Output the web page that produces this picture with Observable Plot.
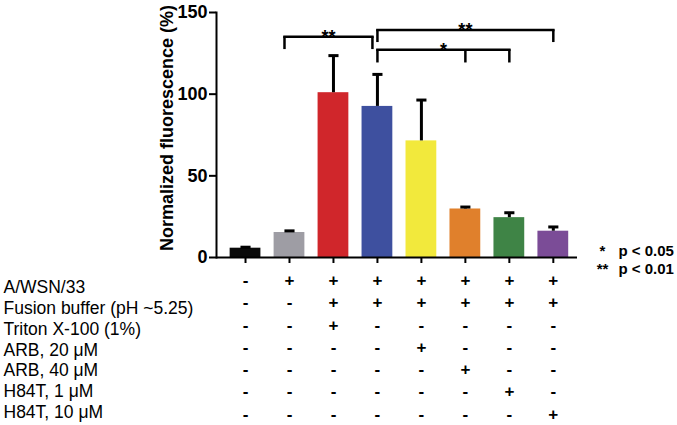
<!DOCTYPE html>
<html>
<head>
<meta charset="utf-8">
<script src="https://cdn.jsdelivr.net/npm/d3@7"></script>
<script src="https://cdn.jsdelivr.net/npm/@observablehq/plot@0.6"></script>
<style>
  html, body { margin: 0; padding: 0; background: #fff; }
  #chart svg { display: block; }
</style>
</head>
<body>
<div id="chart"></div>
<script>
// ---- data ----
const conditions = ["Mock", "A/WSN/33", "Triton X-100", "Fusion buffer", "ARB 20", "ARB 40", "H84T 1", "H84T 10"];
const means  = [5.7, 15.3, 100.9, 92.5, 71.4, 29.7, 24.4, 16.1];
const errors = [0.6, 1.0, 22.7, 19.6, 25.0, 1.2, 3.0, 2.6];
const barColors = ["#0a0a0a", "#9e9da4", "#d0262b", "#3e509f", "#f2e93c", "#e0802c", "#3f8446", "#7b4c97"];
const yTicks = [0, 50, 100, 150];
const yTitle = "Normalized fluorescence (%)";

const rowLabels = ["A/WSN/33", "Fusion buffer (pH ~5.25)", "Triton X-100 (1%)", "ARB, 20 μM", "ARB, 40 μM", "H84T, 1 μM", "H84T, 10 μM"];
const signRows = [
  ["-", "+", "+", "+", "+", "+", "+", "+"],
  ["-", "-", "+", "+", "+", "+", "+", "+"],
  ["-", "-", "+", "-", "-", "-", "-", "-"],
  ["-", "-", "-", "-", "+", "-", "-", "-"],
  ["-", "-", "-", "-", "-", "+", "-", "-"],
  ["-", "-", "-", "-", "-", "-", "+", "-"],
  ["-", "-", "-", "-", "-", "-", "-", "+"]
];

// significance brackets (indices into conditions, heights in y units)
const bracketFrom  = [1, 3, 3];
const bracketTo    = [3, 7, 6];
const bracketMid   = [null, null, 5];
const bracketTop   = [135.1, 139.3, 127.2];
const bracketLeg   = [127.3, 131.6, 119.1];
const bracketLabel = ["**", "**", "*"];

const legendStars = ["*", "**"];
const legendTexts = ["p < 0.05", "p < 0.01"];

// ---- build tables ----
const bars = conditions.map((c, i) => ({i, cond: c, mean: means[i], top: means[i] + errors[i], color: barColors[i]}));
const brackets = bracketFrom.map((f, k) => ({
  from: f, to: bracketTo[k], mid: bracketMid[k], top: bracketTop[k], leg: bracketLeg[k],
  label: bracketLabel[k], shift: k === 0 ? -5 : 0
}));

const font = "'Liberation Sans', Arial, Helvetica, sans-serif";
const halfBar = 0.35;

const marks = [
  // bars
  Plot.rectY(bars, {x1: d => d.i - halfBar, x2: d => d.i + halfBar, y: "mean", fill: "color"}),
  // error bars (upper only)
  Plot.ruleX(bars, {x: "i", y1: "mean", y2: "top", stroke: "black", strokeWidth: 3}),
  Plot.link(bars, {x1: d => d.i - 0.115, x2: d => d.i + 0.115, y1: "top", y2: "top", stroke: "black", strokeWidth: 3}),
  // axes
  Plot.axisY({ticks: yTicks, tickSize: 7, tickPadding: 2, strokeWidth: 2, fontSize: 18, fontWeight: "bold", label: null}),
  Plot.axisX({ticks: d3.range(conditions.length), tickSize: 6, strokeWidth: 2, tickFormat: () => "", label: null}),
  Plot.frame({anchor: "left", strokeWidth: 2}),
  Plot.ruleY([0], {strokeWidth: 2}),
  // y-axis title
  Plot.text([yTitle], {frameAnchor: "left", textAnchor: "middle", lineAnchor: "middle", rotate: -90, dx: -49, dy: -7, fontSize: 18, fontWeight: "bold", fill: "black"}),
];

// brackets
brackets.forEach(b => {
  marks.push(
    Plot.link([b], {x1: "from", x2: "to", y1: "top", y2: "top", strokeWidth: 2.5, strokeLinecap: "square", dx: b.shift}),
    Plot.ruleX([b.from, b.to].concat(b.mid == null ? [] : [b.mid]), {x: d => d, y1: b.top, y2: b.leg, strokeWidth: 2.5, dx: b.shift}),
    Plot.text([b], {x: d => (d.from + d.to) / 2, y: "top", text: "label", lineAnchor: "bottom", dy: 6, dx: b.shift, fontSize: 18, fontWeight: "bold"})
  );
});

// condition table
signRows.forEach((row, r) => {
  marks.push(
    Plot.text(row, {x: (d, i) => i, text: d => d, frameAnchor: "bottom", lineAnchor: "middle", dy: 23 + r * 22.3, fontSize: 17, fontWeight: 600}),
    Plot.text([rowLabels[r]], {frameAnchor: "bottom-left", textAnchor: "start", lineAnchor: "middle", dx: -213, dy: 30 + r * 20.8, fontSize: 17.5})
  );
});

// significance legend
legendStars.forEach((s, k) => {
  marks.push(
    Plot.text([s], {frameAnchor: "bottom-right", textAnchor: "middle", lineAnchor: "middle", dx: 25, dy: -6 + k * 18, fontSize: 15, fontWeight: "bold"}),
    Plot.text([legendTexts[k]], {frameAnchor: "bottom-right", textAnchor: "start", lineAnchor: "middle", dx: 41, dy: -6 + k * 18, fontSize: 15, fontWeight: "bold"})
  );
});

const chart = Plot.plot({
  width: 677,
  height: 425,
  marginLeft: 216,
  marginRight: 100,
  marginTop: 12,
  marginBottom: 168,
  style: {fontFamily: font, background: "white", color: "black", overflow: "visible"},
  x: {domain: [-0.66, 7.55]},
  y: {domain: [0, 150]},
  marks
});
document.getElementById("chart").appendChild(chart);
</script>
</body>
</html>
